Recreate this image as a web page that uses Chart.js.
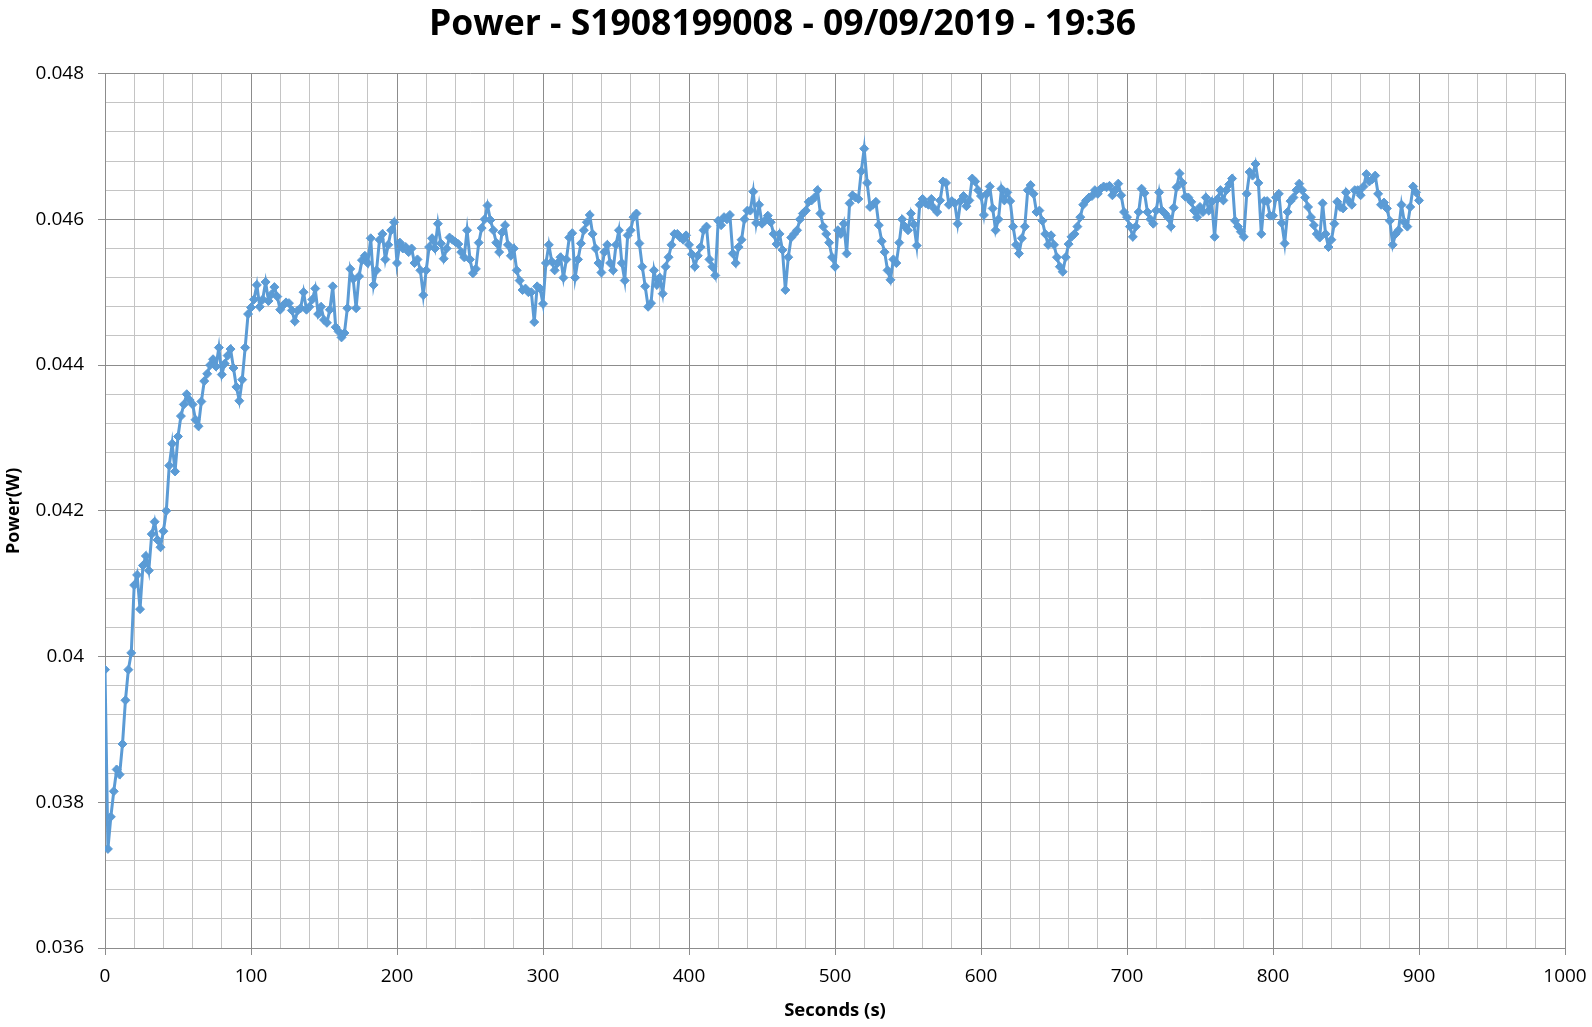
<!DOCTYPE html>
<html lang="en">
<head>
  <meta charset="UTF-8">
  <title>Power - S1908199008 - 09/09/2019 - 19:36</title>
  <style>
    body {
      margin: 0;
      padding: 0;
      background-color: #ffffff;
    }

    #powerChart {
      display: block;
    }
  </style>
  <script src="https://cdn.jsdelivr.net/npm/chart.js"></script>
</head>
<body>

  <canvas id="powerChart" width="1592" height="1027"></canvas>

  <script>
    // one reading every 2 seconds, from 0 s to 900 s
    const SAMPLE_INTERVAL = 2;

    // Power(W) readings
    const power = [
      0.03982, 0.03736, 0.03780, 0.03815, 0.03845, 0.03838, 0.03880, 0.03940, 0.03982, 0.04005,
      0.04098, 0.04112, 0.04065, 0.04125, 0.04138, 0.04118, 0.04168, 0.04185, 0.04160, 0.04150,
      0.04172, 0.04200, 0.04262, 0.04292, 0.04254, 0.04302, 0.04330, 0.04346, 0.04360, 0.04352,
      0.04346, 0.04325, 0.04316, 0.04350, 0.04378, 0.04388, 0.04400, 0.04408, 0.04398, 0.04424,
      0.04387, 0.04402, 0.04413, 0.04422, 0.04396, 0.04370, 0.04351, 0.04380, 0.04424, 0.04470,
      0.04479, 0.04490, 0.04510, 0.04480, 0.04490, 0.04514, 0.04488, 0.04497, 0.04507, 0.04494,
      0.04476, 0.04482, 0.04486, 0.04485, 0.04475, 0.04460, 0.04475, 0.04478, 0.04500, 0.04476,
      0.04480, 0.04490, 0.04505, 0.04470, 0.04480, 0.04462, 0.04458, 0.04476, 0.04508, 0.04452,
      0.04446, 0.04438, 0.04444, 0.04478, 0.04532, 0.04518, 0.04478, 0.04522, 0.04544, 0.04550,
      0.04540, 0.04574, 0.04510, 0.04530, 0.04572, 0.04580, 0.04545, 0.04565, 0.04585, 0.04596,
      0.04540, 0.04568, 0.04560, 0.04562, 0.04555, 0.04560, 0.04540, 0.04545, 0.04530, 0.04496,
      0.04530, 0.04562, 0.04574, 0.04560, 0.04594, 0.04567, 0.04546, 0.04560, 0.04575, 0.04572,
      0.04569, 0.04566, 0.04555, 0.04548, 0.04585, 0.04545, 0.04526, 0.04532, 0.04568, 0.04588,
      0.04600, 0.04619, 0.04599, 0.04585, 0.04568, 0.04555, 0.04582, 0.04592, 0.04565, 0.04550,
      0.04560, 0.04530, 0.04516, 0.04503, 0.04505, 0.04500, 0.04500, 0.04459, 0.04508, 0.04505,
      0.04484, 0.04540, 0.04565, 0.04542, 0.04530, 0.04540, 0.04548, 0.04520, 0.04545, 0.04575,
      0.04581, 0.04520, 0.04545, 0.04567, 0.04585, 0.04596, 0.04606, 0.04580, 0.04560, 0.04540,
      0.04527, 0.04555, 0.04565, 0.04540, 0.04530, 0.04565, 0.04585, 0.04540, 0.04516, 0.04578,
      0.04585, 0.04603, 0.04608, 0.04567, 0.04535, 0.04508, 0.04480, 0.04485, 0.04530, 0.04510,
      0.04520, 0.04498, 0.04535, 0.04548, 0.04565, 0.04580, 0.04580, 0.04575, 0.04572, 0.04578,
      0.04565, 0.04552, 0.04535, 0.04550, 0.04562, 0.04585, 0.04590, 0.04545, 0.04535, 0.04523,
      0.04598, 0.04592, 0.04603, 0.04600, 0.04606, 0.04553, 0.04540, 0.04562, 0.04572, 0.04600,
      0.04612, 0.04612, 0.04638, 0.04595, 0.04620, 0.04594, 0.04598, 0.04605, 0.04596, 0.04580,
      0.04566, 0.04580, 0.04558, 0.04503, 0.04548, 0.04575, 0.04580, 0.04585, 0.04600, 0.04608,
      0.04612, 0.04624, 0.04626, 0.04630, 0.04640, 0.04608, 0.04590, 0.04580, 0.04568, 0.04548,
      0.04535, 0.04585, 0.04580, 0.04594, 0.04553, 0.04622, 0.04633, 0.04630, 0.04628, 0.04666,
      0.04697, 0.04650, 0.04617, 0.04620, 0.04624, 0.04592, 0.04570, 0.04555, 0.04530, 0.04517,
      0.04545, 0.04540, 0.04568, 0.04600, 0.04590, 0.04585, 0.04608, 0.04593, 0.04564, 0.04620,
      0.04628, 0.04622, 0.04620, 0.04628, 0.04615, 0.04610, 0.04626, 0.04652, 0.04650, 0.04620,
      0.04625, 0.04622, 0.04594, 0.04625, 0.04632, 0.04618, 0.04626, 0.04656, 0.04652, 0.04640,
      0.04632, 0.04606, 0.04635, 0.04645, 0.04615, 0.04585, 0.04600, 0.04642, 0.04626, 0.04637,
      0.04625, 0.04590, 0.04565, 0.04553, 0.04574, 0.04590, 0.04640, 0.04647, 0.04635, 0.04610,
      0.04612, 0.04598, 0.04580, 0.04565, 0.04578, 0.04565, 0.04548, 0.04535, 0.04528, 0.04548,
      0.04566, 0.04576, 0.04580, 0.04590, 0.04603, 0.04620, 0.04626, 0.04630, 0.04632, 0.04640,
      0.04635, 0.04642, 0.04645, 0.04644, 0.04646, 0.04633, 0.04640, 0.04649, 0.04633, 0.04610,
      0.04603, 0.04590, 0.04576, 0.04590, 0.04610, 0.04642, 0.04636, 0.04610, 0.04600, 0.04594,
      0.04612, 0.04637, 0.04612, 0.04608, 0.04603, 0.04590, 0.04616, 0.04644, 0.04663, 0.04650,
      0.04631, 0.04630, 0.04624, 0.04612, 0.04603, 0.04617, 0.04610, 0.04630, 0.04612, 0.04624,
      0.04576, 0.04628, 0.04640, 0.04626, 0.04640, 0.04648, 0.04656, 0.04598, 0.04590, 0.04583,
      0.04576, 0.04635, 0.04665, 0.04660, 0.04676, 0.04650, 0.04580, 0.04625, 0.04625, 0.04605,
      0.04605, 0.04630, 0.04635, 0.04595, 0.04567, 0.04610, 0.04625, 0.04630, 0.04640, 0.04649,
      0.04640, 0.04630, 0.04617, 0.04603, 0.04592, 0.04580, 0.04575, 0.04622, 0.04580, 0.04562,
      0.04572, 0.04594, 0.04624, 0.04617, 0.04615, 0.04637, 0.04625, 0.04620, 0.04640, 0.04640,
      0.04633, 0.04645, 0.04662, 0.04652, 0.04655, 0.04660, 0.04635, 0.04620, 0.04623, 0.04615,
      0.04598, 0.04565, 0.04580, 0.04585, 0.04620, 0.04596, 0.04590, 0.04617, 0.04645, 0.04637,
      0.04626
    ];

    const seconds = power.map((_, i) => i * SAMPLE_INTERVAL);

    // axis ranges (major / minor steps like the excel sheet)
    const xRange = { min: 0, max: 1000, major: 100, minor: 20 };
    const yRange = { min: 0.036, max: 0.048, major: 0.002, minor: 0.0004 };

    const MAJOR_GRID = '#8c8c8c';
    const MINOR_GRID = '#c4c4c4';
    const LINE_BLUE = '#5b9bd5';
    const FONT = "'Open Sans', 'Liberation Sans', Arial, sans-serif";

    function isMajor(value, step) {
      return Math.abs(Math.round(value / step) * step - value) < step * 1e-6;
    }

    function buildTicks(range) {
      const count = Math.round((range.max - range.min) / range.minor);
      const ticks = [];
      for (let i = 0; i <= count; i++) {
        ticks.push({ value: +(range.min + i * range.minor).toFixed(6) });
      }
      return ticks;
    }

    const points = seconds.map((s, i) => ({ x: s, y: power[i] }));

    const ctx = document.getElementById('powerChart').getContext('2d');
    const chart = new Chart(ctx, {
      type: 'line',
      data: {
        datasets: [{
          label: 'Power(W)',
          data: points,
          borderColor: LINE_BLUE,
          backgroundColor: LINE_BLUE,
          borderWidth: 3,
          pointStyle: 'rectRot',
          pointRadius: 4.5,
          pointBorderWidth: 1,
          pointBackgroundColor: LINE_BLUE,
          pointBorderColor: LINE_BLUE,
          tension: 0,
          fill: false
        }]
      },
      options: {
        responsive: false,
        animation: false,
        layout: {
          padding: { left: 0, right: 27, top: 0, bottom: 0 }
        },
        plugins: {
          legend: { display: false },
          tooltip: { enabled: false },
          title: {
            display: true,
            text: 'Power - S1908199008 - 09/09/2019 - 19:36',
            color: '#000000',
            font: { family: FONT, size: 35.5, weight: 'bold' },
            padding: { top: 4, bottom: 27 }
          }
        },
        scales: {
          x: {
            type: 'linear',
            min: xRange.min,
            max: xRange.max,
            afterBuildTicks: axis => { axis.ticks = buildTicks(xRange); },
            afterFit: axis => {
              axis.height = 79;
              // let the layout padding alone decide where the plot ends
              axis.paddingLeft = 0;
              axis.paddingRight = 0;
            },
            grid: {
              color: c => isMajor(c.tick.value, xRange.major) ? MAJOR_GRID : MINOR_GRID,
              tickColor: c => isMajor(c.tick.value, xRange.major) ? MAJOR_GRID : 'rgba(0,0,0,0)',
              tickLength: 7,
              lineWidth: 1
            },
            border: { color: MAJOR_GRID },
            ticks: {
              autoSkip: false,
              maxRotation: 0,
              padding: 10,
              color: '#000000',
              font: { family: FONT, size: 19 },
              callback: v => isMajor(v, xRange.major) ? String(Math.round(v)) : ''
            },
            title: {
              display: true,
              text: 'Seconds (s)',
              color: '#000000',
              font: { family: FONT, size: 18.5, weight: 'bold' },
              padding: { top: 0, bottom: 5 }
            }
          },
          y: {
            type: 'linear',
            min: yRange.min,
            max: yRange.max,
            afterBuildTicks: axis => { axis.ticks = buildTicks(yRange); },
            afterFit: axis => { axis.width = 105; },
            grid: {
              color: c => isMajor(c.tick.value, yRange.major) ? MAJOR_GRID : MINOR_GRID,
              tickColor: c => isMajor(c.tick.value, yRange.major) ? MAJOR_GRID : 'rgba(0,0,0,0)',
              tickLength: 7,
              lineWidth: 1
            },
            border: { color: MAJOR_GRID },
            ticks: {
              autoSkip: false,
              padding: 14,
              color: '#000000',
              font: { family: FONT, size: 19 },
              callback: v => isMajor(v, yRange.major) ? String(+v.toFixed(3)) : ''
            },
            title: {
              display: true,
              text: 'Power(W)',
              color: '#000000',
              font: { family: FONT, size: 18, weight: 'bold' },
              padding: { top: 3, bottom: 0 }
            }
          }
        }
      }
    });
  </script>

</body>
</html>
